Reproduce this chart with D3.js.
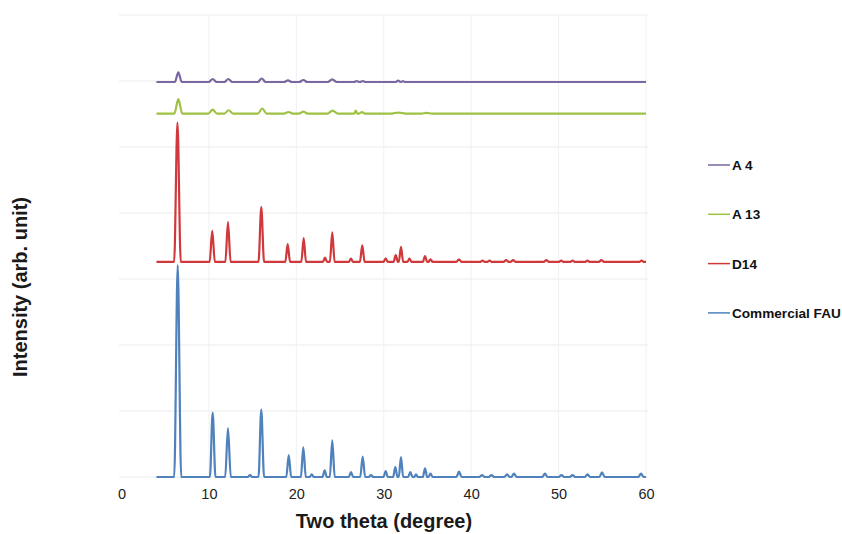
<!DOCTYPE html>
<html>
<head>
<meta charset="utf-8">
<script src="https://cdn.jsdelivr.net/npm/d3@7"></script>
<style>
  body { margin: 0; background: #fff; }
  svg { display: block; font-family: "Liberation Sans", Arial, sans-serif; }
</style>
</head>
<body>
<div id="chart"></div>
<script>
// Peaks: [two theta, height above baseline, half width at base]
const seriesNames = ["Commercial FAU", "D14", "A 13", "A 4"];
const seriesBaselines = [0, 3.258, 5.507, 5.985];
const legendOrder = ["A 4", "A 13", "D14", "Commercial FAU"];
const xTicks = [0, 10, 20, 30, 40, 50, 60];
const thetaRange = [4, 60];

const fauPeaks = [
  [6.43, 3.21, 0.4], [10.43, 0.976, 0.32], [12.18, 0.74, 0.32], [14.70, 0.03, 0.25],
  [15.99, 1.02, 0.32], [19.13, 0.33, 0.28], [20.80, 0.45, 0.28], [21.76, 0.04, 0.25],
  [23.24, 0.10, 0.25], [24.11, 0.556, 0.28], [26.25, 0.076, 0.25], [27.59, 0.31, 0.28],
  [28.54, 0.03, 0.25], [30.22, 0.09, 0.25], [31.32, 0.15, 0.25], [31.97, 0.30, 0.25],
  [33.04, 0.076, 0.25], [33.69, 0.04, 0.22], [34.72, 0.13, 0.25], [35.35, 0.05, 0.25],
  [38.61, 0.08, 0.3], [41.24, 0.03, 0.3], [42.32, 0.03, 0.3], [44.10, 0.04, 0.3],
  [44.90, 0.05, 0.3], [48.44, 0.05, 0.3], [50.33, 0.03, 0.3], [51.59, 0.03, 0.3],
  [53.31, 0.04, 0.3], [54.97, 0.07, 0.3], [59.43, 0.05, 0.3]
];

const d14Peaks = [
  [6.40, 2.11, 0.38], [10.38, 0.47, 0.3], [12.18, 0.606, 0.3], [15.99, 0.83, 0.32],
  [19.01, 0.27, 0.27], [20.84, 0.36, 0.27], [23.28, 0.065, 0.25], [24.11, 0.45, 0.27],
  [26.25, 0.05, 0.25], [27.54, 0.25, 0.27], [30.22, 0.055, 0.25], [31.37, 0.106, 0.25],
  [31.97, 0.23, 0.25], [32.94, 0.05, 0.25], [34.72, 0.09, 0.25], [35.35, 0.04, 0.25],
  [38.60, 0.04, 0.3], [41.30, 0.02, 0.3], [42.10, 0.02, 0.3], [44.00, 0.03, 0.3],
  [44.80, 0.03, 0.3], [48.60, 0.03, 0.3], [50.30, 0.02, 0.3], [51.60, 0.02, 0.3],
  [53.30, 0.02, 0.3], [54.90, 0.03, 0.3], [59.50, 0.02, 0.3]
];

const a13Peaks = [
  [6.50, 0.217, 0.45], [10.43, 0.06, 0.5], [12.26, 0.05, 0.5], [16.10, 0.076, 0.5],
  [19.10, 0.023, 0.5], [20.80, 0.03, 0.5], [24.15, 0.045, 0.6], [26.80, 0.045, 0.18],
  [27.50, 0.023, 0.35], [31.70, 0.015, 0.8], [34.90, 0.01, 0.6]
];

const a4Peaks = [
  [6.50, 0.147, 0.4], [10.43, 0.045, 0.45], [12.22, 0.045, 0.45], [16.04, 0.053, 0.45],
  [19.04, 0.023, 0.45], [20.80, 0.03, 0.45], [24.11, 0.04, 0.5], [26.90, 0.015, 0.3],
  [27.60, 0.015, 0.3], [31.65, 0.02, 0.3], [32.20, 0.015, 0.2]
];

const seriesPeaks = [fauPeaks, d14Peaks, a13Peaks, a4Peaks];
const colors = {
  "Commercial FAU": "#4f81bd",
  "D14": "#d0393b",
  "A 13": "#9fc143",
  "A 4": "#7a66a0"
};

const W = 842, H = 534;
const x = d3.scaleLinear().domain([0, 60]).range([121.5, 646]);
const y = d3.scaleLinear().domain([0, 7]).range([477, 15]);

const svg = d3.select('#chart').append('svg')
  .attr('width', W)
  .attr('height', H);

// faint grid
svg.append('g').selectAll('line')
  .data(y.ticks(7))
  .enter().append('line')
  .attr('x1', 119).attr('x2', 648)
  .attr('y1', d => y(d)).attr('y2', d => y(d))
  .style('stroke', '#ebebeb');

svg.append('g').selectAll('line')
  .data(xTicks.slice(1))
  .enter().append('line')
  .attr('x1', d => x(d)).attr('x2', d => x(d))
  .attr('y1', y(0)).attr('y2', y(7))
  .style('stroke', '#f1f1f1');

// x tick labels
const xAxis = svg.append('g')
  .attr('transform', `translate(0,${y(0)})`)
  .call(d3.axisBottom(x).tickValues(xTicks).tickSize(0).tickPadding(12));
xAxis.select('.domain').remove();
xAxis.selectAll('text')
  .style('font-size', '14.5px')
  .style('font-family', '"Liberation Sans", Arial, sans-serif')
  .style('fill', '#222');

// patterns
const line = d3.line()
  .x(d => x(d[0]))
  .y(d => y(d[1]))
  .curve(d3.curveMonotoneX);

seriesNames.forEach((name, i) => {
  const base = seriesBaselines[i];
  let pts = [[thetaRange[0], base]];
  seriesPeaks[i].forEach(p => {
    pts.push([p[0] - p[2], base], [p[0], base + p[1]], [p[0] + p[2], base]);
  });
  pts.push([thetaRange[1], base]);

  svg.append('path')
    .datum(pts)
    .attr('d', line)
    .style('fill', 'none')
    .style('stroke', colors[name])
    .style('stroke-width', 2.2)
    .style('stroke-linejoin', 'round');
});

// legend
const legend = svg.append('g').selectAll('g')
  .data(legendOrder)
  .enter().append('g')
  .attr('transform', (d, i) => `translate(0,${165 + i * 49.3})`);

legend.append('line')
  .attr('x1', 708).attr('x2', 730)
  .attr('y1', 0).attr('y2', 0)
  .style('stroke', d => colors[d])
  .style('stroke-width', 1.5);

legend.append('text')
  .attr('x', 732).attr('y', 5)
  .text(d => d)
  .style('font-size', '13.6px')
  .style('font-weight', 'bold')
  .style('fill', '#111');

// axis titles
svg.append('text')
  .attr('x', 384).attr('y', 528)
  .style('text-anchor', 'middle')
  .style('font-size', '20px')
  .style('font-weight', 'bold')
  .style('fill', '#1a1a1a')
  .text('Two theta (degree)');

svg.append('text')
  .attr('transform', 'translate(27,287) rotate(-90)')
  .style('text-anchor', 'middle')
  .style('font-size', '20px')
  .style('font-weight', 'bold')
  .style('fill', '#1a1a1a')
  .text('Intensity (arb. unit)');
</script>
</body>
</html>
